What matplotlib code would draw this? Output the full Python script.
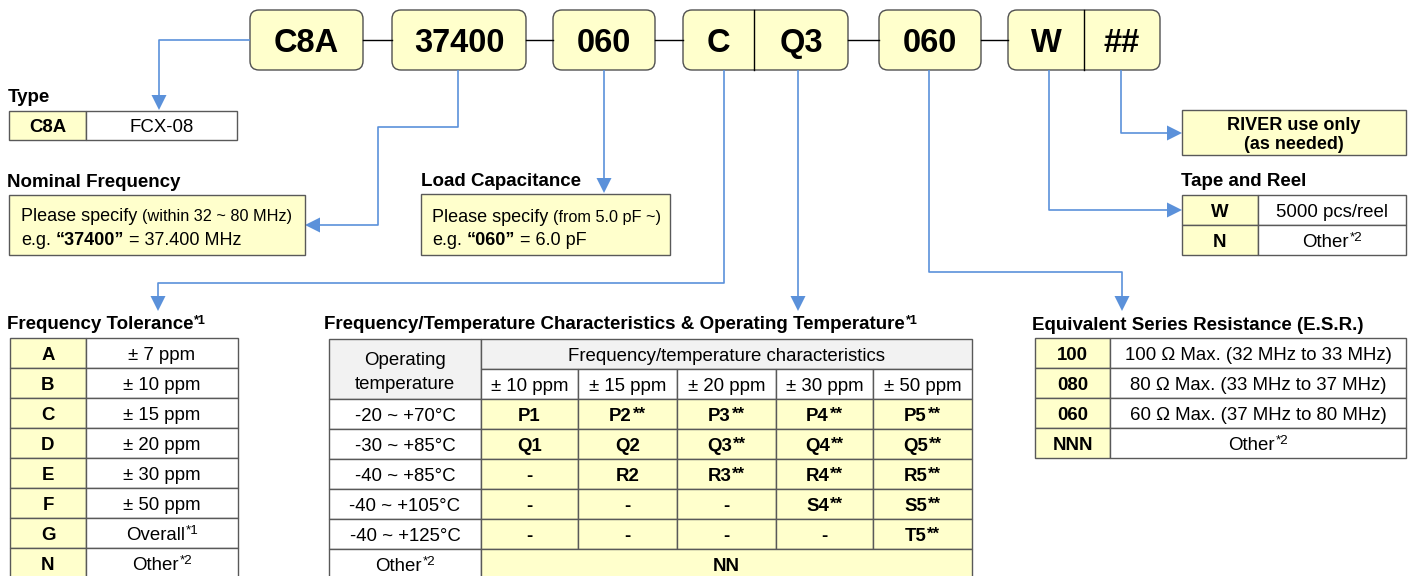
import matplotlib
matplotlib.use('Agg')
import matplotlib.pyplot as plt
from matplotlib.patches import Rectangle, FancyBboxPatch, Polygon

plt.rcParams['font.family'] = ['Liberation Sans', 'DejaVu Sans']

# part number fields
top_codes = [['C8A'], ['37400'], ['060'], ['C', 'Q3'], ['060'], ['W', '##']]

type_codes = ['C8A']
type_names = ['FCX-08']

tol_codes = ['A', 'B', 'C', 'D', 'E', 'F', 'G', 'N']
tol_values = ['± 7 ppm', '± 10 ppm', '± 15 ppm', '± 20 ppm', '± 30 ppm',
              '± 50 ppm', 'Overall*1', 'Other*2']

temp_ranges = ['-20 ~ +70°C', '-30 ~ +85°C', '-40 ~ +85°C',
               '-40 ~ +105°C', '-40 ~ +125°C']
ppm_cols = ['± 10 ppm', '± 15 ppm', '± 20 ppm', '± 30 ppm', '± 50 ppm']
temp_codes = [['P1', 'P2**', 'P3**', 'P4**', 'P5**'],
              ['Q1', 'Q2', 'Q3**', 'Q4**', 'Q5**'],
              ['-', 'R2', 'R3**', 'R4**', 'R5**'],
              ['-', '-', '-', 'S4**', 'S5**'],
              ['-', '-', '-', '-', 'T5**']]
other_temp = 'Other*2'
other_code = 'NN'

esr_codes = ['100', '080', '060', 'NNN']
esr_desc = ['100 Ω Max. (32 MHz to 33 MHz)', '80 Ω Max. (33 MHz to 37 MHz)',
            '60 Ω Max. (37 MHz to 80 MHz)', 'Other*2']

tape_codes = ['W', 'N']
tape_desc = ['5000 pcs/reel', 'Other*2']

YELLOW = '#FFFFCC'
GREY = '#F2F2F2'
EDGE = '#595959'
BLUE = '#5B91DA'
FS = 13.4     # table text
FL = 13.5     # section labels

fig = plt.figure(figsize=(14.1, 5.76), dpi=100)
ax = fig.add_axes([0, 0, 1, 1])
ax.set_xlim(0, 1410)
ax.set_ylim(576, 0)
ax.axis('off')
R = fig.canvas.get_renderer()


def px(pt):
    return pt * 100 / 72.


def rich(x, y, parts, ha='left'):
    ''' parts : (text, size, weight, rise, gap) drawn on one baseline '''
    items = []
    for s, size, weight, rise, gap in parts:
        t = ax.text(x, y - rise, s, fontsize=size, fontweight=weight,
                    va='baseline', ha='left', color='black')
        items.append((t, t.get_window_extent(R).width + gap))
    total = sum(w for _, w in items)
    cx = x - total / 2 if ha == 'center' else x
    for t, w in items:
        t.set_x(cx)
        cx += w


def marked(x, cy, s, size=FS, weight='normal', ha='center'):
    ''' text centred on cy, part after '*' drawn as superscript '''
    base_y = cy + 0.36 * px(size)
    if '*' in s:
        i = s.index('*')
        sup = s[i:]
        if sup.strip('*') == '':
            part = (sup, size * 0.9, weight, 2, 0)
        else:
            part = (sup, size * 0.72, weight, px(size) * 0.3, 0)
        rich(x, base_y, [(s[:i], size, weight, 0, 0.8), part], ha)
    else:
        ax.text(x, base_y, s, fontsize=size, fontweight=weight,
                va='baseline', ha=ha)


def cell(x0, y0, x1, y1, fill='white', lw=1.0):
    ax.add_patch(Rectangle((x0, y0), x1 - x0, y1 - y0, facecolor=fill,
                           edgecolor=EDGE, lw=lw))


def arrow_path(pts, head=15, half=7.5):
    (xa, ya), (xb, yb) = pts[-2], pts[-1]
    dx, dy = xb - xa, yb - ya
    n = (dx ** 2 + dy ** 2) ** 0.5
    ux, uy = dx / n, dy / n
    bx, by = xb - ux * head, yb - uy * head
    xs = [p[0] for p in pts[:-1]] + [bx]
    ys = [p[1] for p in pts[:-1]] + [by]
    ax.plot(xs, ys, color=BLUE, lw=1.2, solid_capstyle='butt')
    ax.add_patch(Polygon([(xb, yb), (bx - uy * half, by + ux * half),
                          (bx + uy * half, by - ux * half)],
                         closed=True, facecolor=BLUE, edgecolor='none'))


# ---- top row of part number boxes
box_x = [(250, 363), (392, 526), (553, 655), (683, 848), (879, 981), (1008, 1160)]
split_x = [None, None, None, 754, None, 1084]
for i, (codes, (x0, x1)) in enumerate(zip(top_codes, box_x)):
    ax.add_patch(FancyBboxPatch((x0, 10), x1 - x0, 60,
                                boxstyle='round,pad=0,rounding_size=9',
                                facecolor=YELLOW, edgecolor='#505050', lw=1.0))
    if len(codes) == 1:
        centres = [(x0 + x1) / 2]
    else:
        s = split_x[i]
        ax.plot([s, s], [10, 70], color='black', lw=1.0)
        centres = [(x0 + s) / 2, (s + x1) / 2]
    for c, t in zip(centres, codes):
        ax.text(c, 52, t, fontsize=23.5, fontweight='bold', ha='center', va='baseline')
    if i > 0:
        ax.plot([box_x[i - 1][1], x0], [40, 40], color='black', lw=1.0)

# ---- blue connectors
arrow_path([(250, 40), (159, 40), (159, 110)])
arrow_path([(458, 70), (458, 127), (378, 127), (378, 225), (305, 225)])
arrow_path([(604, 70), (604, 193)])
arrow_path([(724, 70), (724, 283), (158, 283), (158, 311)])
arrow_path([(798, 70), (798, 311)])
arrow_path([(929, 70), (929, 272), (1122, 272), (1122, 311)])
arrow_path([(1049, 70), (1049, 210), (1182, 210)])
arrow_path([(1121, 70), (1121, 133), (1182, 133)])

# ---- Type
ax.text(8, 102, 'Type', fontsize=FL, fontweight='bold', va='baseline')
cell(9, 111, 86, 140, YELLOW)
cell(86, 111, 237, 140)
marked(47.5, 125.5, type_codes[0], weight='bold')
marked(161.5, 125.5, type_names[0])

# ---- Nominal frequency
ax.text(7, 187, 'Nominal Frequency', fontsize=FL, fontweight='bold', va='baseline')
cell(9, 195, 305, 255, YELLOW)
rich(21, 221, [('Please specify', 13, 'normal', 0, 5),
               ('(within 32 ~ 80 MHz)', 11.7, 'normal', 0, 0)])
rich(21, 245, [('e.g.', 13, 'normal', 0, 5),
               ('\u201c37400\u201d', 13, 'bold', 0, 5),
               ('= 37.400 MHz', 13, 'normal', 0, 0)])

# ---- Load capacitance
ax.text(421, 186, 'Load Capacitance', fontsize=FL, fontweight='bold', va='baseline')
cell(421, 194, 670, 255, YELLOW)
rich(432, 222, [('Please specify', 13, 'normal', 0, 5),
                ('(from 5.0 pF ~)', 11.7, 'normal', 0, 0)])
rich(432, 245, [('e.g.', 13, 'normal', 0, 5),
                ('\u201c060\u201d', 13, 'bold', 0, 5),
                ('= 6.0 pF', 13, 'normal', 0, 0)])

# ---- RIVER use / Tape and reel
cell(1182, 110, 1406, 155, YELLOW)
ax.text(1294, 130, 'RIVER use only', fontsize=13, fontweight='bold', ha='center', va='baseline')
ax.text(1294, 149, '(as needed)', fontsize=13, fontweight='bold', ha='center', va='baseline')
ax.text(1181, 186, 'Tape and Reel', fontsize=FL, fontweight='bold', va='baseline')
for k, (c, d) in enumerate(zip(tape_codes, tape_desc)):
    y0 = 195 + 30 * k
    cell(1182, y0, 1258, y0 + 30, YELLOW)
    cell(1258, y0, 1406, y0 + 30)
    marked(1220, y0 + 15, c, weight='bold')
    marked(1332, y0 + 15, d)

# ---- Frequency tolerance
rich(7, 329, [('Frequency Tolerance', FL, 'bold', 0, 0.8),
              ('*1', 9, 'bold', 5, 0)])
for k, (c, v) in enumerate(zip(tol_codes, tol_values)):
    y0 = 338 + 30 * k
    cell(10, y0, 86, y0 + 30, YELLOW)
    cell(86, y0, 238, y0 + 30)
    marked(48, y0 + 15, c, weight='bold')
    marked(162, y0 + 15, v)

# ---- Frequency / temperature table
rich(324, 329, [('Frequency/Temperature Characteristics & Operating Temperature', FL, 'bold', 0, 0.8),
                ('*1', 9, 'bold', 5, 0)])
col_x = [481, 578, 677, 776, 873, 972]
cell(329, 339, 481, 399, GREY)
ax.text(405, 365, 'Operating', fontsize=FS, ha='center', va='baseline')
ax.text(405, 389, 'temperature', fontsize=FS, ha='center', va='baseline')
cell(481, 339, 972, 369, GREY)
marked(726.5, 354, 'Frequency/temperature characteristics')
for j, h in enumerate(ppm_cols):
    cell(col_x[j], 369, col_x[j + 1], 399)
    marked((col_x[j] + col_x[j + 1]) / 2, 384, h)
for i, (rng, row) in enumerate(zip(temp_ranges, temp_codes)):
    y0 = 399 + 30 * i
    cell(329, y0, 481, y0 + 30)
    marked(405, y0 + 15, rng)
    for j, code in enumerate(row):
        cell(col_x[j], y0, col_x[j + 1], y0 + 30, YELLOW)
        marked((col_x[j] + col_x[j + 1]) / 2, y0 + 15, code, weight='bold')
y0 = 399 + 30 * len(temp_ranges)
cell(329, y0, 481, y0 + 30)
marked(405, y0 + 15, other_temp)
cell(481, y0, 972, y0 + 30, YELLOW)
marked(726.5, y0 + 15, other_code, weight='bold')

# ---- ESR
ax.text(1032, 330, 'Equivalent Series Resistance (E.S.R.)', fontsize=FL,
        fontweight='bold', va='baseline')
for k, (c, d) in enumerate(zip(esr_codes, esr_desc)):
    y0 = 338 + 30 * k
    cell(1035, y0, 1110, y0 + 30, YELLOW)
    cell(1110, y0, 1406, y0 + 30)
    marked(1072.5, y0 + 15, c, weight='bold')
    marked(1258, y0 + 15, d)

fig.savefig('out.png', dpi=100)
